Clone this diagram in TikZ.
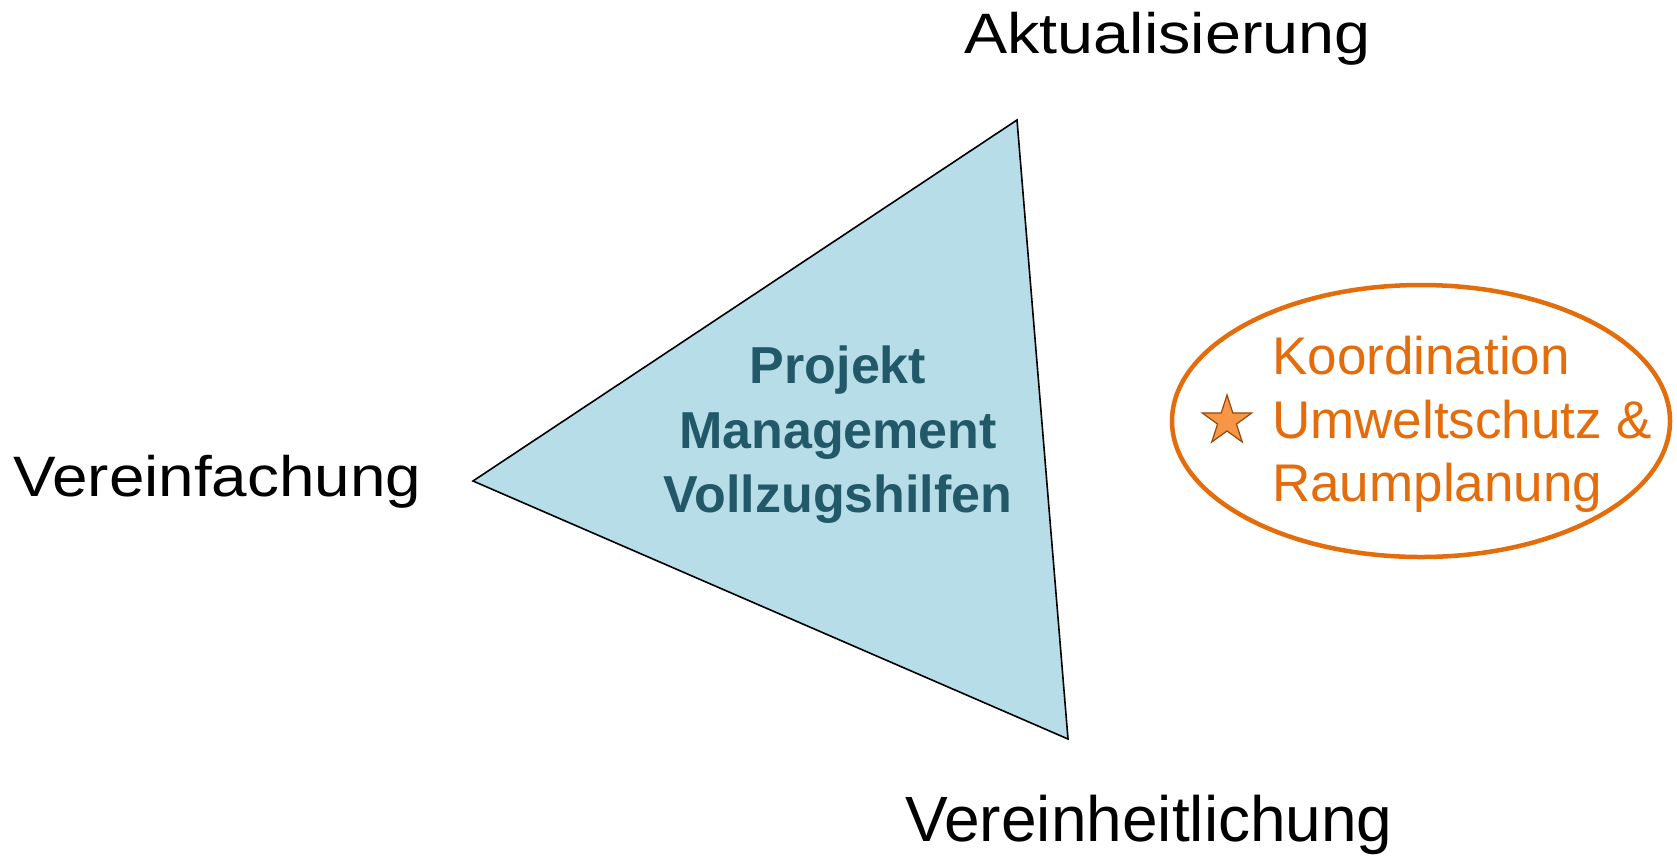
\documentclass[tikz,border=0pt]{standalone}
\usepackage{fontspec}
\setmainfont{Liberation Sans}
\usetikzlibrary{shapes.geometric}
\definecolor{trifill}{HTML}{B7DDE8}
\definecolor{teal}{HTML}{215968}
\definecolor{orng}{HTML}{E46C0A}
\definecolor{starfill}{HTML}{F79646}
\definecolor{stardraw}{HTML}{984807}
\tikzset{
  lbl/.style={anchor=base west, inner sep=0pt, text=black},
  ctr/.style={anchor=base, inner sep=0pt, text=teal, font=\fontsize{52}{65}\selectfont\bfseries},
  kor/.style={anchor=base west, inner sep=0pt, text=orng, font=\fontsize{53}{63}\selectfont},
  tri/.style={fill=trifill, draw=black, line width=1.6pt, line join=miter},
  oval/.style={draw=orng, line width=4.5pt},
  starmark/.style={star, star points=5, star point ratio=2.618, minimum size=52pt, inner sep=0pt, fill=starfill, draw=stardraw, line width=1.2pt}
}
\begin{document}
\begin{tikzpicture}[x=1pt,y=-1pt]
\useasboundingbox[fill=white] (0,0) rectangle (1677,855);
\coordinate (L) at (473,481);
\coordinate (T) at (1017,120);
\coordinate (B) at (1068,739);
\draw[tri] (L) -- (T) -- (B) -- cycle;
\node[lbl, font=\fontsize{57}{60}\selectfont] (akt) at (964,53) {\scalebox{1.135}[1]{Aktualisierung}};
\node[lbl, font=\fontsize{57}{60}\selectfont] (vf) at (13,496) {\scalebox{1.12}[1]{Vereinfachung}};
\node[lbl, font=\fontsize{64}{66}\selectfont] (vh) at (905,841) {Vereinheitlichung};
\node[ctr] (p1) at (838,383) {Projekt};
\node[ctr] (p2) at (838,448) {Management};
\node[ctr] (p3) at (838,512) {Vollzugshilfen};
\draw[oval] (1421,421) ellipse [x radius=249, y radius=136];
\node[starmark] (st) at (1227,421) {};
\node[kor] (k1) at (1272,374) {Koordination};
\node[kor] (k2) at (1272,438) {Umweltschutz \&};
\node[kor] (k3) at (1272,501) {Raumplanung};
\end{tikzpicture}
\end{document}
